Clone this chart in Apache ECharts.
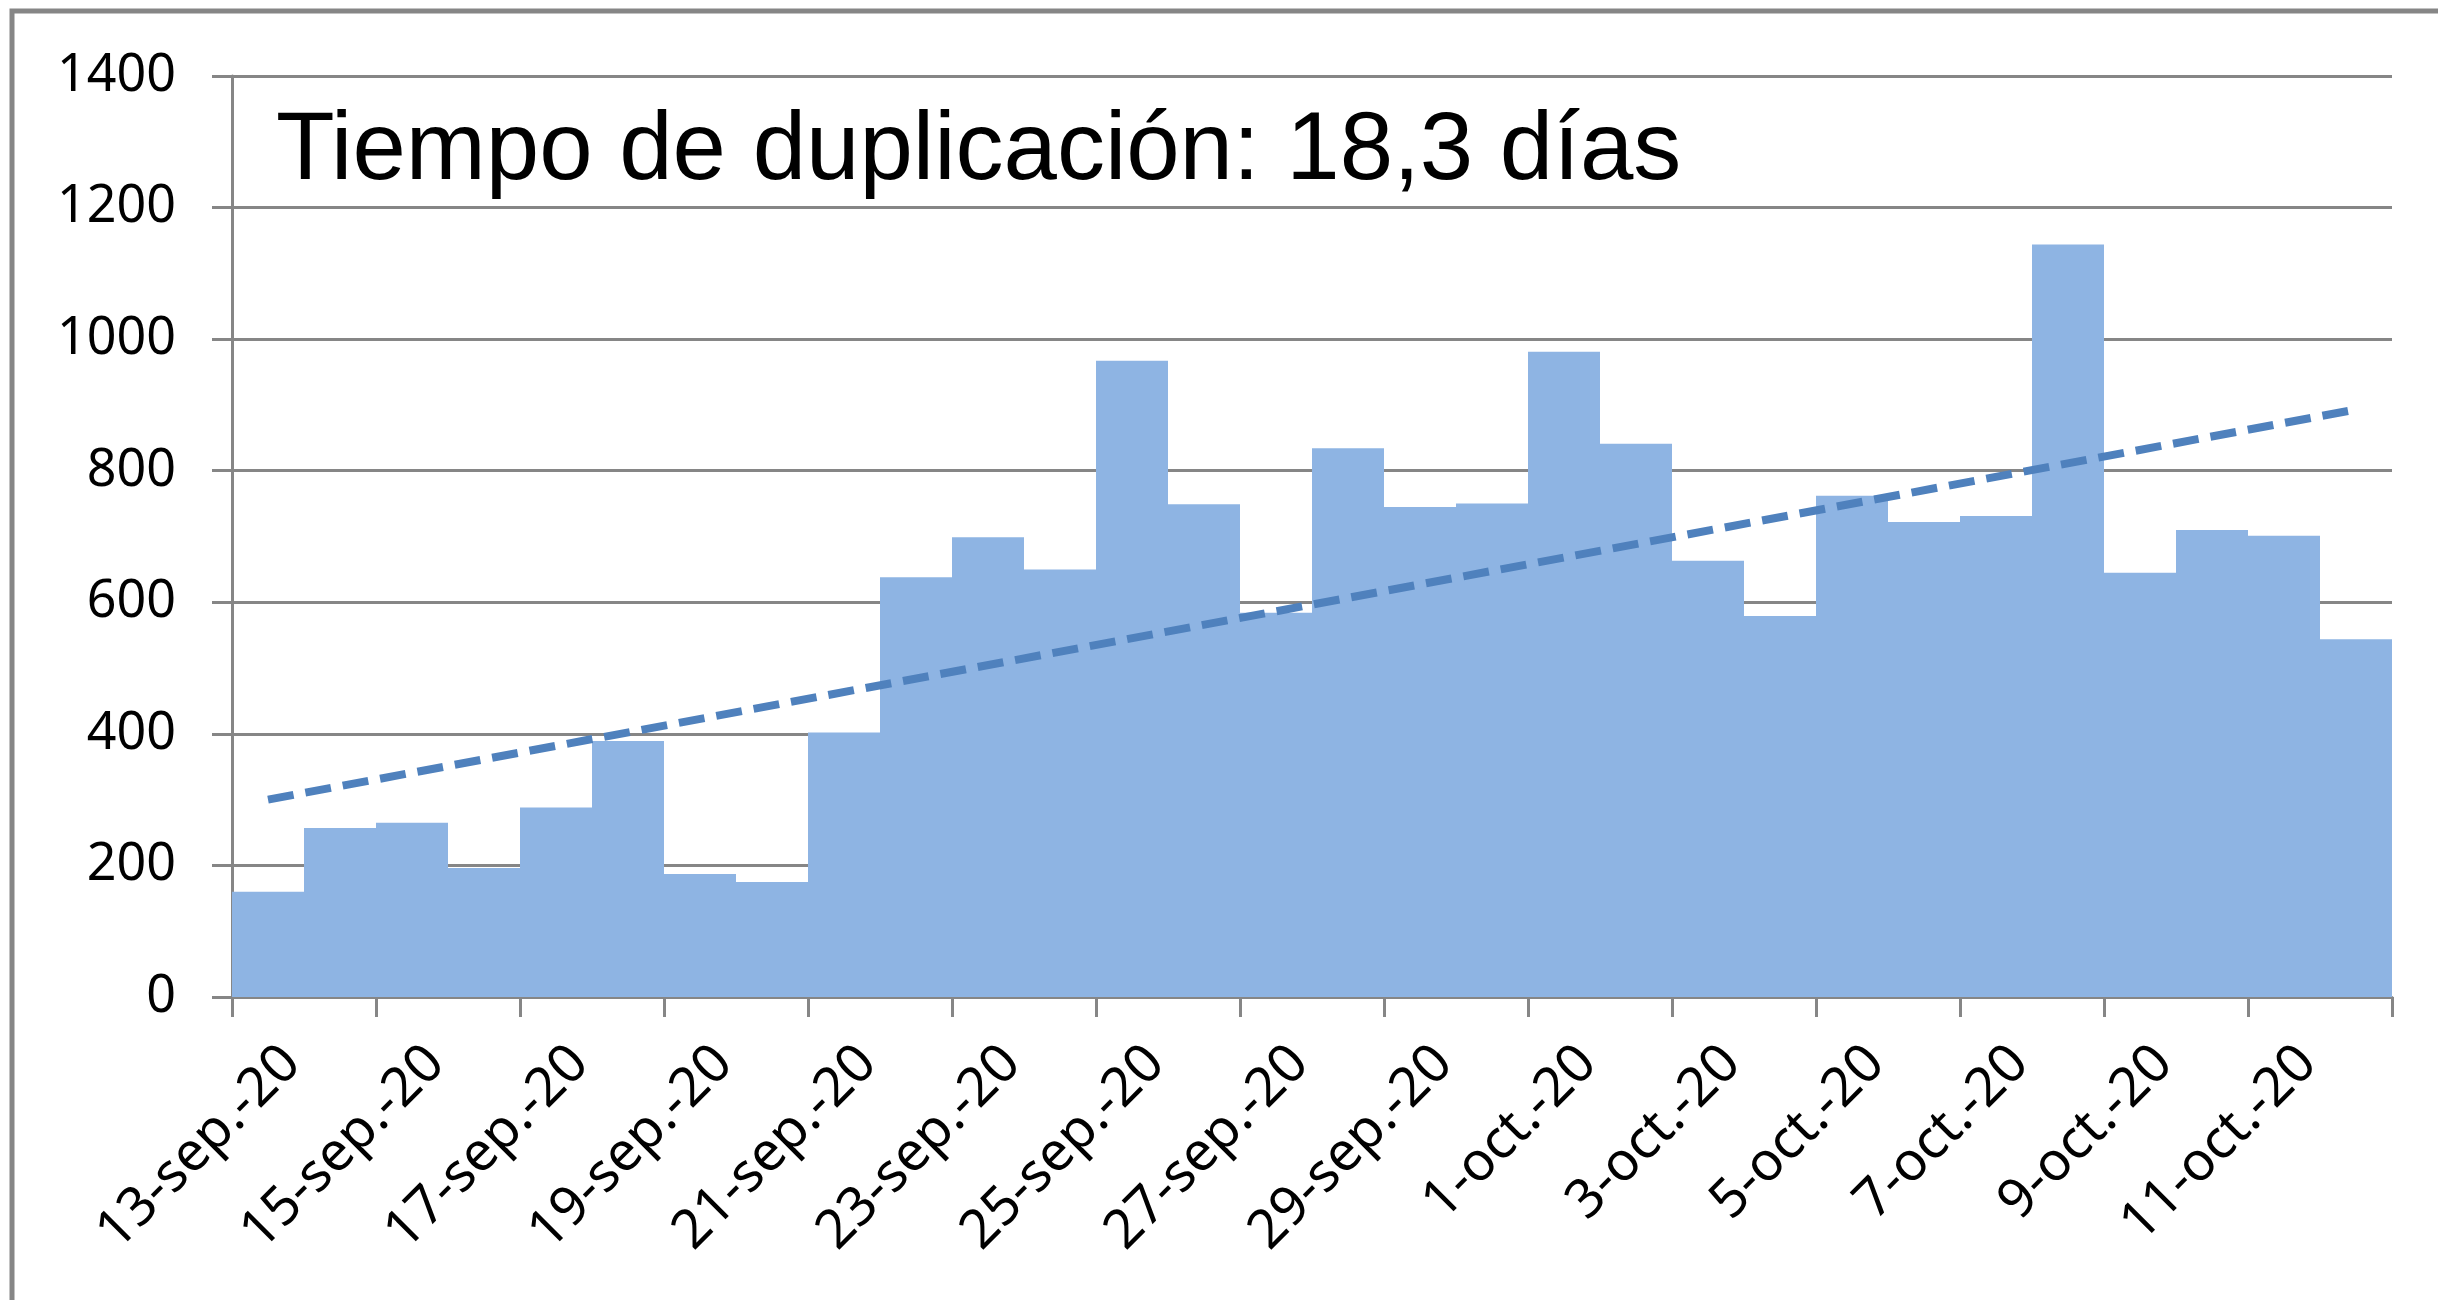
<!DOCTYPE html>
<html>
<head>
<meta charset="utf-8">
<script src="https://cdn.jsdelivr.net/npm/echarts@6/dist/echarts.min.js"></script>
<style>
html,body{margin:0;padding:0;background:#fff;}
#chart{width:2438px;height:1300px;}
</style>
</head>
<body>
<div id="chart"></div>
<script>
// ---- data ----
const dates = ['13-sep.-20','14-sep.-20','15-sep.-20','16-sep.-20','17-sep.-20','18-sep.-20','19-sep.-20','20-sep.-20','21-sep.-20','22-sep.-20','23-sep.-20','24-sep.-20','25-sep.-20','26-sep.-20','27-sep.-20','28-sep.-20','29-sep.-20','30-sep.-20','1-oct.-20','2-oct.-20','3-oct.-20','4-oct.-20','5-oct.-20','6-oct.-20','7-oct.-20','8-oct.-20','9-oct.-20','10-oct.-20','11-oct.-20','12-oct.-20'];
const cases = [160, 257, 265, 196, 288, 389, 187, 175, 402, 638, 699, 650, 967, 749, 584, 834, 745, 750, 981, 841, 663, 579, 762, 722, 731, 1144, 645, 710, 701, 544];
const trendStart = 300;   // trend line value read at first day
const trendEnd = 893;     // trend line value read at last day
const yTicks = [0, 200, 400, 600, 800, 1000, 1200, 1400];
const titleText = 'Tiempo de duplicación: 18,3 días';

const gray = '#868686';
const labelShift = 24; // horizontal offset of the rotated date labels (Excel-style anchoring)
const chart = echarts.init(document.getElementById('chart'), null, {renderer: 'canvas'});
chart.setOption({
  animation: false,
  backgroundColor: '#ffffff',
  title: {
    text: titleText,
    left: 276,
    top: 105,
    padding: 0,
    textStyle: {fontFamily: 'Liberation Sans', fontSize: 96, fontWeight: 'normal', color: '#000'}
  },
  graphic: [{
    type: 'polyline',
    shape: {points: [[12, 1300], [12, 11], [2438, 11]]},
    style: {stroke: gray, lineWidth: 5, fill: null},
    silent: true
  }],
  grid: [
    {left: 232, right: 46, top: 76, bottom: 303, containLabel: false},
    {left: 232 + labelShift, right: 46 - labelShift, top: 76, bottom: 303, containLabel: false}
  ],
  xAxis: [{
    type: 'category',
    gridIndex: 0,
    data: dates,
    boundaryGap: true,
    axisLine: {show: true, lineStyle: {color: gray, width: 3}},
    axisTick: {show: true, interval: 1, length: 20, lineStyle: {color: gray, width: 3}},
    axisLabel: {show: false, interval: 1},
    splitLine: {show: false}
  }, {
    type: 'category',
    gridIndex: 1,
    data: dates,
    boundaryGap: true,
    axisLine: {show: false},
    axisTick: {show: false},
    axisLabel: {
      interval: 1, rotate: 45, margin: 58,
      fontFamily: 'Noto Sans', fontSize: 54, color: '#000'
    },
    splitLine: {show: false}
  }],
  yAxis: [{
    type: 'value',
    gridIndex: 0,
    min: yTicks[0], max: yTicks[yTicks.length - 1], interval: yTicks[1] - yTicks[0],
    axisLine: {show: true, lineStyle: {color: gray, width: 3}},
    axisTick: {show: true, length: 20, lineStyle: {color: gray, width: 3}},
    axisLabel: {margin: 56, fontFamily: 'Noto Sans', fontSize: 52, color: '#000',
      formatter: function (v) { return String(v); }},
    splitLine: {show: true, lineStyle: {color: gray, width: 3}}
  }, {
    type: 'value',
    gridIndex: 1,
    min: yTicks[0], max: yTicks[yTicks.length - 1],
    show: false
  }],
  series: [{
    type: 'bar',
    xAxisIndex: 0, yAxisIndex: 0,
    data: cases,
    barWidth: '100%',
    barCategoryGap: '0%',
    itemStyle: {color: '#8EB4E3'},
    z: 2
  }, {
    type: 'line',
    xAxisIndex: 0, yAxisIndex: 0,
    data: [[dates[0], trendStart], [dates[dates.length - 1], trendEnd]],
    symbol: 'none',
    lineStyle: {color: '#4F81BD', width: 8, type: [26, 12]},
    z: 5
  }]
});
</script>
</body>
</html>
